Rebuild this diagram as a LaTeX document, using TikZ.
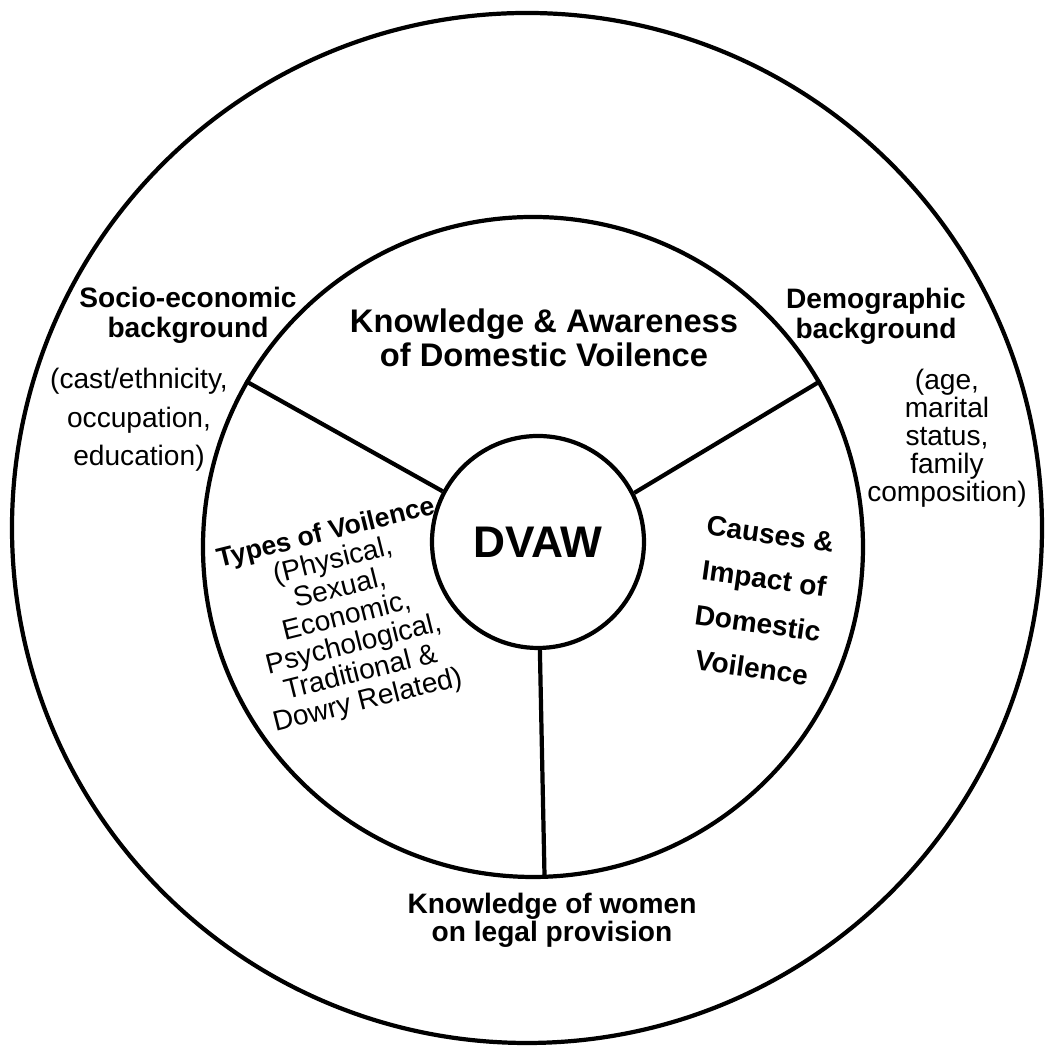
\documentclass[tikz,border=0pt]{standalone}
\usepackage{fontspec}
\setmainfont{Liberation Sans}
\usepackage{tikz}
\usetikzlibrary{positioning}

\begin{document}
\begin{tikzpicture}[
  hdtext/.style={align=center,inner sep=0pt,font=\bfseries\fontsize{8}{8.5}\selectfont},
  subtext/.style={align=center,inner sep=0pt,font=\fontsize{8}{8}\selectfont},
  line width=1.2pt
]
  \useasboundingbox (-5.27,-5.18) rectangle (5.20,5.28);
  \node[circle,draw,minimum size=10.3cm] (outer) at (0,0) {};
  \node[circle,draw,minimum size=6.6cm] (ring) at (0.06,-0.19) {};
  \node[circle,draw,minimum size=2.12cm,font=\bfseries\fontsize{12.6}{12.6}\selectfont] (dvaw) at (0.11,-0.14) {DVAW};

  \draw (dvaw.152) -- (ring.150);
  \draw (dvaw.27) -- (ring.30);
  \draw (dvaw.271) -- (ring.272);

  \node[hdtext,font=\bfseries\fontsize{9.3}{9.5}\selectfont] (aware) at (0.17,1.90) {Knowledge \& Awareness\\of Domestic Voilence};
  \node[hdtext] (socio) at (-3.39,2.13) {Socio-economic\\background};
  \node[subtext,font=\fontsize{8}{11}\selectfont] (sociosub) at (-3.88,1.08) {(cast/ethnicity,\\occupation,\\education)};
  \node[hdtext] (demo) at (3.49,2.12) {Demographic\\background};
  \node[subtext] (demosub) at (4.20,0.90) {(age,\\marital\\status,\\family\\composition)};
  \node[subtext,rotate=14,font=\fontsize{8}{8.2}\selectfont] (types) at (-1.80,-0.90)
    {{\bfseries\fontsize{7.6}{8.2}\selectfont Types of Voilence}\\(Physical,\\Sexual,\\Economic,\\Psychological,\\Traditional \&\\Dowry Related)};
  \node[hdtext,rotate=-8,font=\bfseries\fontsize{8}{12.8}\selectfont] (causes) at (2.34,-0.73) {Causes \&\\Impact of\\Domestic\\Voilence};
  \node[hdtext,font=\bfseries\fontsize{8}{8}\selectfont] (legal) at (0.25,-3.92) {Knowledge of women\\on legal provision};
\end{tikzpicture}
\end{document}
